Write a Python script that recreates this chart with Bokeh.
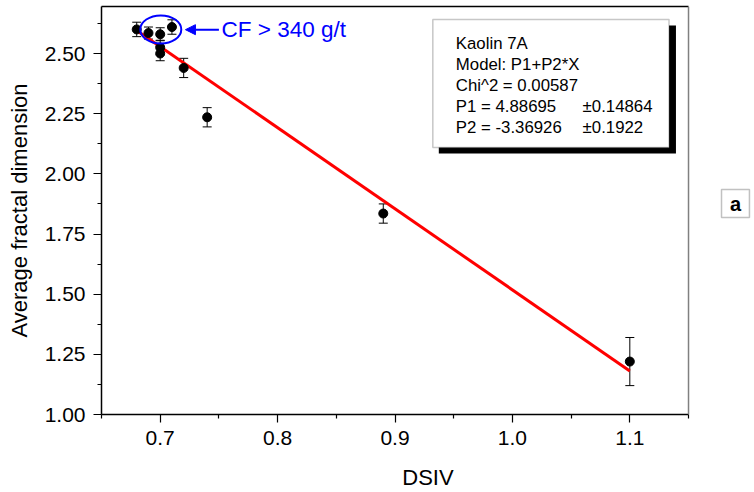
from bokeh.plotting import figure
from bokeh.models import (ColumnDataSource, Whisker, TeeHead, Label, BoxAnnotation, Arrow,
                          NormalHead, LinearAxis, FixedTicker, NumeralTickFormatter, Range1d,
                          Span)
from bokeh.embed import file_html
from bokeh.resources import INLINE

# ---- data ----
dsiv = [0.68, 0.69, 0.70, 0.70, 0.70, 0.71, 0.72, 0.74, 0.89, 1.10]
frac_dim = [2.60, 2.585, 2.58, 2.525, 2.50, 2.61, 2.44, 2.235, 1.835, 1.22]
frac_err = [0.03, 0.025, 0.027, 0.03, 0.03, 0.03, 0.04, 0.04, 0.04, 0.10]

fit_x = [0.68, 1.10]
fit_y = [2.596, 1.181]

x_major = [0.7, 0.8, 0.9, 1.0, 1.1]
x_minor = [0.65, 0.75, 0.85, 0.95, 1.05, 1.15]
y_major = [1.00, 1.25, 1.50, 1.75, 2.00, 2.25, 2.50]
y_minor = [1.125, 1.375, 1.625, 1.875, 2.125, 2.375, 2.625]

fit_lines = ["Kaolin 7A", "Model: P1+P2*X", "Chi^2 = 0.00587", "P1 =  4.88695", "P2 = -3.36926"]
fit_errs = ["\u00b10.14864", "\u00b10.1922"]
panel_letter = "a"

FONT = "Liberation Sans"
X_AXIS_END = 1.15

src = ColumnDataSource(dict(
    x=dsiv, y=frac_dim,
    upper=[v + e for v, e in zip(frac_dim, frac_err)],
    lower=[v - e for v, e in zip(frac_dim, frac_err)],
))

# frame spans the full width to the right so the panel letter can sit inside it;
# the visible axes are bounded to 0.65..1.15
p = figure(width=754, height=492, x_range=Range1d(0.65, 1.2062), y_range=Range1d(1.0, 2.6953),
           output_backend="svg", toolbar_location=None,
           min_border_left=101, min_border_right=0, min_border_top=6, min_border_bottom=78)
p.outline_line_color = None
p.xgrid.grid_line_color = None
p.ygrid.grid_line_color = None
p.background_fill_color = "white"
p.border_fill_color = "white"

# axes
p.xaxis.ticker = FixedTicker(ticks=x_major, minor_ticks=x_minor)
p.yaxis.ticker = FixedTicker(ticks=y_major, minor_ticks=y_minor)
p.xaxis.bounds = (0.65, X_AXIS_END)
p.xaxis.formatter = NumeralTickFormatter(format="0.0")
p.yaxis.formatter = NumeralTickFormatter(format="0.00")
p.xaxis.axis_label = "DSIV"
p.yaxis.axis_label = "Average fractal dimension"
for ax in (p.xaxis[0], p.yaxis[0]):
    ax.axis_line_color = "black"
    ax.axis_line_width = 1.5
    ax.major_tick_line_color = "black"
    ax.minor_tick_line_color = "black"
    ax.major_tick_line_width = 1.2
    ax.minor_tick_line_width = 1.2
    ax.major_tick_in = 0
    ax.major_tick_out = 8
    ax.minor_tick_in = 0
    ax.minor_tick_out = 4
    ax.major_label_text_font = FONT
    ax.major_label_text_font_size = "21px"
    ax.major_label_text_color = "black"
    ax.axis_label_text_font = FONT
    ax.axis_label_text_font_size = "22px"
    ax.axis_label_text_font_style = "normal"
    ax.axis_label_text_color = "black"
p.xaxis.major_label_standoff = 8
p.xaxis.axis_label_standoff = 17
p.yaxis.major_label_standoff = 8
p.yaxis.axis_label_standoff = 10

# frame top border (black) and right border (grey)
top_ax = LinearAxis(ticker=FixedTicker(ticks=[]), major_tick_out=0, minor_tick_out=0,
                    major_label_standoff=0, major_label_text_font_size="0px",
                    axis_label_standoff=0, bounds=(0.65, X_AXIS_END),
                    axis_line_color="black", axis_line_width=1.5)
p.add_layout(top_ax, "above")
p.add_layout(Span(location=X_AXIS_END, dimension="height", line_color="#808080",
                  line_width=1.5))

# fit line
p.line(fit_x, fit_y, line_color="#ff0000", line_width=3)

# error bars and points
p.add_layout(Whisker(source=src, base="x", upper="upper", lower="lower",
                     line_color="black", line_width=1,
                     upper_head=TeeHead(size=9, line_color="black", line_width=1),
                     lower_head=TeeHead(size=9, line_color="black", line_width=1)))
p.scatter("x", "y", source=src, size=9, color="black")

# CF annotation
p.ellipse(x=[0.7005], y=[2.60], width=[41], height=[28], width_units="screen",
          height_units="screen", fill_color=None, line_color="#0000ff", line_width=2)
p.add_layout(Arrow(x_start=0.750, y_start=2.599, x_end=0.7215, y_end=2.599,
                   line_color="#0000ff", line_width=2,
                   end=NormalHead(size=10, fill_color="#0000ff", line_color="#0000ff")))
p.add_layout(Label(x=0.7523, y=2.60, text="CF > 340 g/t", text_baseline="middle",
                   text_align="left", text_font=FONT, text_font_size="22.5px",
                   text_color="#0000ff"))

# fit results box with shadow
p.add_layout(BoxAnnotation(left=0.9373, right=1.1393, top=2.616, bottom=2.084,
                           fill_color="black", fill_alpha=1, line_color=None))
p.add_layout(BoxAnnotation(left=0.9322, right=1.1334, top=2.641, bottom=2.109,
                           fill_color="white", fill_alpha=1, line_color="#444444",
                           line_width=1.5))
line_y = [2.541, 2.454, 2.367, 2.280, 2.192]
for t, yy in zip(fit_lines, line_y):
    p.add_layout(Label(x=0.9518, y=yy, text=t, text_baseline="middle", text_align="left",
                       text_font=FONT, text_font_size="16.8px", text_color="black"))
for t, yy in zip(fit_errs, line_y[3:]):
    p.add_layout(Label(x=1.0598, y=yy, text=t, text_baseline="middle", text_align="left",
                       text_font=FONT, text_font_size="16.8px", text_color="black"))

# panel letter box
p.add_layout(BoxAnnotation(left=1.1781, right=1.2019, top=1.9348, bottom=1.8184,
                           fill_color="white", fill_alpha=1, line_color="#333333",
                           line_width=1.5))
p.add_layout(Label(x=1.19, y=1.8766, text=panel_letter, text_baseline="middle",
                   text_align="center", text_font=FONT, text_font_size="20px",
                   text_font_style="bold", text_color="black"))

open("out.html", "w").write(file_html(p, INLINE))
